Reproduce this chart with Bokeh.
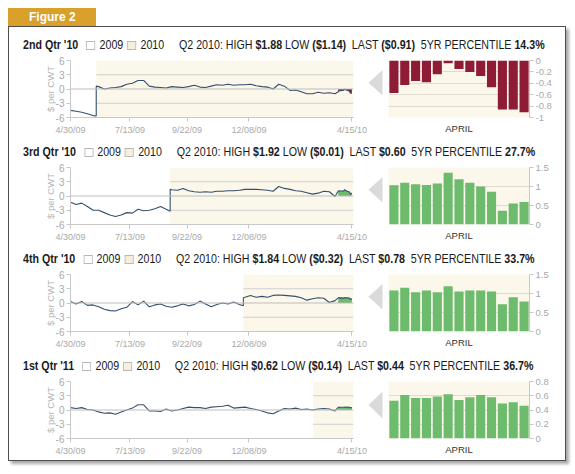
import pandas as pd
from bokeh.plotting import figure
from bokeh.layouts import column, row
from bokeh.models import Div, Spacer, Range1d, FixedTicker, Span
from bokeh.embed import file_html
from bokeh.resources import INLINE

# ---------------- data ----------------
contracts = ["2nd Qtr '10", "3rd Qtr '10", "4th Qtr '10", "1st Qtr '11"]
highs = ["$1.88", "$1.92", "$1.84", "$0.62"]
lows = ["($1.14)", "($0.01)", "($0.32)", "($0.14)"]
lasts = ["($0.91)", "$0.60", "$0.78", "$0.44"]
pctls = ["14.3%", "27.7%", "33.7%", "36.7%"]

start_date = "2009-04-30"
end_date = "2010-04-17"
roll_dates = ["2009-06-01", "2009-09-01", "2009-12-01", "2010-02-26"]
jump_before = [-5.7, -3.2, -0.6, None]
jump_after = [0.6, 1.4, 1.1, None]

weekly_q2_10 = [-4.5, -4.7, -4.9, -5.2, -5.6, 0.5, 0.0, 0.2, 0.3, 0.5,
                1.0, 1.2, 1.8, 1.8, 0.6, 0.4, 0.3, 0.2, 0.5, 0.4,
                0.3, 0.5, 0.8, 0.4, 0.3, 0.6, 0.9, 0.8, 1.0, 0.8,
                0.9, 0.9, 1.0, 0.7, 0.5, 0.4, 0.0, 1.0, 0.6, -0.3,
                -0.2, -0.6, -1.0, -1.0, -0.7, -0.9, -0.8, -1.0]
weekly_q3_10 = [-1.3, -1.8, -1.5, -2.2, -3.0, -3.0, -3.5, -4.0, -4.3, -4.0,
                -3.5, -3.6, -2.8, -3.1, -3.0, -2.7, -2.2, -2.8, 1.3, 1.2,
                1.6, 1.1, 0.9, 0.8, 0.9, 0.8, 1.0, 1.0, 1.1, 1.1,
                1.2, 1.4, 1.4, 1.4, 1.3, 1.2, 1.0, 2.0, 1.6, 1.4,
                1.1, 1.0, 0.7, 0.4, 0.6, 1.0, 0.9, -0.1]
weekly_q4_10 = [0.3, -0.2, 0.3, -0.5, -0.4, -0.8, -1.3, -1.6, -1.7, -1.2,
                -0.9, 0.3, -0.4, 0.4, -0.8, -0.4, -0.2, -0.7, -0.9, -0.6,
                -0.2, -0.6, -0.3, 0.4, -0.2, -0.8, -0.3, 0.0, -0.2, 0.2,
                -0.3, 1.2, 1.6, 1.2, 1.4, 1.2, 1.6, 1.7, 1.6, 1.5,
                1.4, 1.1, 0.6, 0.9, 1.1, 1.0, 0.1, 0.5]
weekly_q1_11 = [0.5, 0.3, 0.5, 0.1, 0.0, -0.4, -0.7, -0.6, -0.9, -0.4,
                0.0, 0.4, 1.1, 1.1, -0.2, -0.2, -0.3, 0.2, -0.2, 0.0,
                0.3, 0.6, 0.5, 0.5, 0.3, 0.6, 0.7, 0.8, 1.0, 0.4,
                0.5, 0.6, 0.3, 0.1, -0.2, -0.6, -0.8, -0.2, 0.3, 0.2,
                0.4, 0.1, 0.2, 0.0, 0.2, 0.3, 0.2, -0.2]
weekly = [weekly_q2_10, weekly_q3_10, weekly_q4_10, weekly_q1_11]

april_dates = ["2010-03-29", "2010-03-30", "2010-03-31", "2010-04-01", "2010-04-05",
               "2010-04-06", "2010-04-07", "2010-04-08", "2010-04-09", "2010-04-12",
               "2010-04-13", "2010-04-14", "2010-04-15"]
april_q2_10 = [-0.57, -0.43, -0.36, -0.38, -0.24, -0.05, -0.15, -0.20, -0.27, -0.47, -0.86, -0.86, -0.91]
april_q3_10 = [1.03, 1.10, 1.06, 1.04, 1.08, 1.36, 1.19, 1.10, 1.00, 0.86, 0.36, 0.55, 0.59]
april_q4_10 = [1.08, 1.15, 1.03, 1.08, 1.03, 1.19, 1.05, 1.08, 1.08, 1.05, 0.72, 0.90, 0.79]
april_q1_11 = [0.53, 0.61, 0.57, 0.57, 0.59, 0.62, 0.54, 0.58, 0.61, 0.58, 0.49, 0.51, 0.46]
april = [april_q2_10, april_q3_10, april_q4_10, april_q1_11]

x_tick_dates = ["2009-04-30", "2009-07-13", "2009-09-22", "2009-12-08", "2010-04-15"]
x_tick_labels = ["4/30/09", "7/13/09", "9/22/09", "12/08/09", "4/15/10"]
y_ticks = [-6, -3, 0, 3, 6]
y_tick_labels = ["-6", "-3", "0", "3", "6"]

bar_ranges = [(-1.0, 0.0), (0.0, 1.5), (0.0, 1.5), (0.0, 0.8)]
bar_ticks = [[-1.0, -0.8, -0.6, -0.4, -0.2, 0.0], [0.0, 0.5, 1.0, 1.5],
             [0.0, 0.5, 1.0, 1.5], [0.0, 0.2, 0.4, 0.6, 0.8]]
bar_tick_labels = [["-1", "-0.8", "-0.6", "-0.4", "-0.2", "0"], ["0", "0.5", "1", "1.5"],
                   ["0", "0.5", "1", "1.5"], ["0", "0.2", "0.4", "0.6", "0.8"]]

# ---------------- styles ----------------
FONT = "'Liberation Sans', Arial, sans-serif"
SVGFONT = "Liberation Sans"
CREAM = "#fbf7ea"
CREAM_BOX = "#f6efda"
LINE_C = "#34506e"
RED = "#8e1b38"
GREEN = "#6dbb6d"
TICK_C = "#a9a9a9"
AXIS_C = "#c8c8c8"
bar_colors = [RED, GREEN, GREEN, GREEN]


def ms(d):
    return pd.Timestamp(d).value // 10**6


def title_div(i):
    sq = ('<span style="display:inline-block;width:11px;height:9px;border:1px solid #b8b8b8;'
          'background:{};vertical-align:-1px;margin-right:5px"></span>')
    html = (
        '<div style="width:542px;height:16px;overflow:hidden">'
        f'<div style="font-family:{FONT};font-size:13px;color:#1a1a1a;white-space:nowrap;'
        'line-height:16px;height:16px;transform:scaleX(0.82);transform-origin:0 0">'
        f'<b>{contracts[i]}</b>'
        f'<span style="margin-left:10px">{sq.format("#ffffff")}2009</span>'
        f'<span style="margin-left:5px">{sq.format(CREAM_BOX)}2010</span>'
        f'<span style="margin-left:18px">Q2 2010: HIGH <b>{highs[i]}</b> LOW <b>{lows[i]}</b></span>'
        f'<span style="margin-left:7px">LAST <b>{lasts[i]}</b></span>'
        f'<span style="margin-left:7px">5YR PERCENTILE <b>{pctls[i]}</b></span>'
        '</div></div>'
    )
    return Div(text=html, width=542, height=16, margin=0)


def line_fig(i, bottom_border):
    h = 7 + 57 + bottom_border
    p = figure(width=328, height=h, x_axis_type="datetime",
               x_range=Range1d(pd.Timestamp(start_date), pd.Timestamp(end_date)),
               y_range=Range1d(-6, 6), output_backend="svg", toolbar_location=None,
               min_border_left=31, min_border_right=14, min_border_top=7,
               min_border_bottom=bottom_border)
    p.outline_line_color = None
    p.grid.visible = False
    roll = pd.Timestamp(roll_dates[i])
    end = pd.Timestamp(end_date)
    p.quad(left=[roll], right=[end], bottom=[-6], top=[6], fill_color=CREAM, line_color=None)
    p.segment(x0=[roll, roll], x1=[end, end], y0=[3, -3], y1=[3, -3], line_color="#cfcfcf", line_width=1)
    p.add_layout(Span(location=0, dimension="width", line_color="#bdbdbd", line_width=1))

    # assemble series
    xs, ys = [], []
    wk_dates = pd.date_range(start_date, periods=len(weekly[i]), freq="7D")
    inserted = jump_before[i] is None
    for d, v in zip(wk_dates, weekly[i]):
        if not inserted and d > roll:
            xs += [roll, roll]
            ys += [jump_before[i], jump_after[i]]
            inserted = True
        xs.append(d)
        ys.append(v)
    ad = [pd.Timestamp(d) for d in april_dates]
    xs += ad
    ys += april[i]
    p.varea(x=ad, y1=[0] * len(ad), y2=april[i], fill_color=bar_colors[i])
    p.line(xs, ys, line_color=LINE_C, line_width=1.1)

    ax = p.xaxis[0]
    ticks = [ms(d) for d in x_tick_dates]
    ax.ticker = FixedTicker(ticks=ticks)
    ax.major_label_overrides = {t: l for t, l in zip(ticks, x_tick_labels)}
    ax.axis_line_color = AXIS_C
    ax.major_tick_line_color = AXIS_C
    ax.major_tick_in = 0
    ax.major_tick_out = 4
    ax.minor_tick_line_color = None
    ax.major_label_text_color = TICK_C
    ax.major_label_text_font = SVGFONT
    ax.major_label_text_font_size = "9px"
    ax.major_label_standoff = 3

    ay = p.yaxis[0]
    ay.ticker = FixedTicker(ticks=y_ticks)
    ay.major_label_overrides = {t: l for t, l in zip(y_ticks, y_tick_labels)}
    ay.axis_line_color = AXIS_C
    ay.major_tick_line_color = AXIS_C
    ay.major_tick_in = 0
    ay.major_tick_out = 4
    ay.minor_tick_line_color = None
    ay.major_label_text_color = TICK_C
    ay.major_label_text_font = SVGFONT
    ay.major_label_text_font_size = "10px"
    ay.major_label_standoff = 2
    ay.axis_label = "$ per CWT"
    ay.axis_label_text_font = SVGFONT
    ay.axis_label_text_font_style = "normal"
    ay.axis_label_text_font_size = "9.5px"
    ay.axis_label_text_color = "#b5b5b5"
    ay.axis_label_standoff = -3
    return p


def arrow_fig(h):
    a = figure(width=21, height=h, x_range=Range1d(0, 21), y_range=Range1d(0, h),
               output_backend="svg", toolbar_location=None, min_border=0)
    a.axis.visible = False
    a.grid.visible = False
    a.outline_line_color = None
    c = h - 7 - 28.5
    a.patch([1, 15, 15], [c, c + 20.5, c - 20.5], fill_color="#dadada", line_color=None)
    return a


def bar_fig(i, bottom_border):
    h = 7 + 57 + bottom_border
    lo, hi = bar_ranges[i]
    b = figure(width=167, height=h, x_range=Range1d(0.5, 13.5), y_range=Range1d(lo, hi),
               y_axis_location="right", output_backend="svg", toolbar_location=None,
               min_border_left=0, min_border_right=26, min_border_top=7,
               min_border_bottom=bottom_border)
    b.outline_line_color = None
    b.background_fill_color = CREAM
    b.xgrid.visible = False
    b.ygrid.ticker = FixedTicker(ticks=bar_ticks[i])
    b.ygrid.grid_line_color = "#dedbd2"
    idx = list(range(1, len(april[i]) + 1))
    b.vbar(x=idx, width=0.84, top=april[i], bottom=0, fill_color=bar_colors[i], line_color=None)

    ax = b.xaxis[0]
    ax.ticker = FixedTicker(ticks=[])
    ax.axis_line_color = None
    ax.major_tick_line_color = None
    ax.minor_tick_line_color = None
    ax.major_tick_out = 0
    ax.major_label_standoff = 0
    ax.axis_label = "APRIL"
    ax.axis_label_text_font = SVGFONT
    ax.axis_label_text_font_style = "normal"
    ax.axis_label_text_font_size = "9.5px"
    ax.axis_label_text_color = "#333333"
    ax.axis_label_standoff = 5

    ay = b.yaxis[0]
    ay.ticker = FixedTicker(ticks=bar_ticks[i])
    ay.major_label_overrides = {t: l for t, l in zip(bar_ticks[i], bar_tick_labels[i])}
    ay.axis_line_color = AXIS_C
    ay.major_tick_line_color = AXIS_C
    ay.major_tick_in = 0
    ay.major_tick_out = 4
    ay.minor_tick_line_color = None
    ay.major_label_text_color = TICK_C
    ay.major_label_text_font = SVGFONT
    ay.major_label_text_font_size = "9.5px"
    ay.major_label_standoff = 2
    return b


blocks = [Spacer(width=556, height=10)]
for i in range(4):
    bb = 27 if i < 3 else 22
    h = 7 + 57 + bb
    blocks.append(row(Spacer(width=14, height=16), title_div(i)))
    blocks.append(row(Spacer(width=30, height=h), line_fig(i, bb), arrow_fig(h), bar_fig(i, bb),
                      Spacer(width=10, height=h)))

box = column(*blocks, styles={"border": "1.5px solid #4d4d4d", "background": "#ffffff",
                              "box-shadow": "3px 3px 3px #a8a8a8"})

tab = Div(text=('<div style="width:88px;height:18px;background:#d9a12b;color:#ffffff;'
                "font-family:'Liberation Sans', Arial, sans-serif;font-weight:bold;font-size:12px;"
                'line-height:18px;padding-left:21px;box-sizing:border-box">Figure 2</div>'),
          width=88, height=18, margin=0)

root = column(Spacer(width=560, height=8), row(Spacer(width=8, height=456), column(tab, box)))

open("out.html", "w").write(file_html(root, INLINE))
